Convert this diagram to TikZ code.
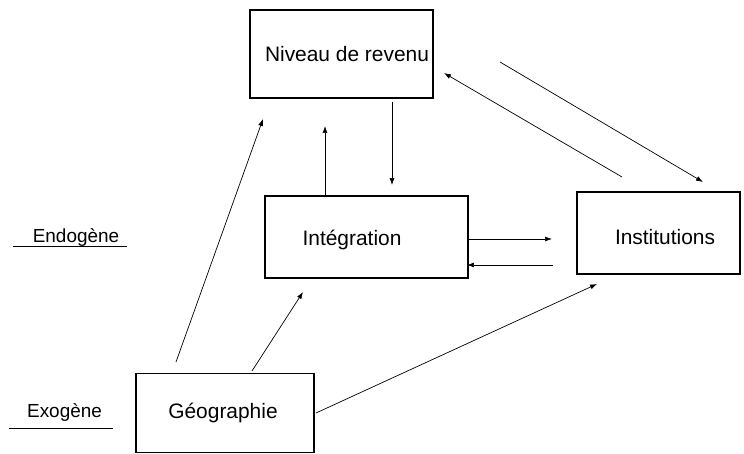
\documentclass[tikz,border=0pt]{standalone}
\usepackage{fontspec}
\setmainfont{Liberation Sans}
\usetikzlibrary{arrows.meta}

\begin{document}
\begin{tikzpicture}[x=1bp,y=-1bp,
    boite/.style={draw,line width=1.1pt,minimum width=#1,inner sep=0pt},
    fleche/.style={-{Latex[length=7pt,width=5pt]},line width=0.7pt},
    txt/.style={font=\fontsize{21}{24}\selectfont},
    petit/.style={font=\fontsize{19}{22}\selectfont}]
    \useasboundingbox (0,0) rectangle (744,454);
    % boxes
    \node[boite=183bp,minimum height=88bp] (rev) at (341.5,54) {};
    \node[boite=203bp,minimum height=82bp] (integ) at (366.5,237) {};
    \node[boite=163bp,minimum height=82bp] (inst) at (658.5,233) {};
    \node[boite=178bp,minimum height=79bp] (geo) at (225,413) {};
    % box texts
    \node[txt] (trev) at (347,54) {Niveau de revenu};
    \node[txt] (tinteg) at (352,240) {Intégration};
    \node[txt] (tinst) at (665,237) {Institutions};
    \node[txt] (tgeo) at (223,413) {Géographie};
    % side labels
    \node[petit] (endo) at (76,237) {Endogène};
    \node[petit] (exo) at (64.5,412) {Exogène};
    \draw[line width=0.8pt] (13,246) -- (127,246);
    \draw[line width=0.8pt] (9,428) -- (113,428);
    % free arrow ends
    \coordinate (g1) at (176,362);  \coordinate (r1) at (263,119);
    \coordinate (g2) at (252,371);  \coordinate (i1) at (303,292);
    \coordinate (g3) at (316,413);  \coordinate (n1) at (597,284);
    \coordinate (i2) at (325,196);  \coordinate (r2) at (325,126);
    \coordinate (r3) at (392,102);  \coordinate (i3) at (392,185);
    \coordinate (n2) at (622,177);  \coordinate (r4) at (444,73);
    \coordinate (r5) at (500,62);   \coordinate (n3) at (703,182);
    \coordinate (i4) at (467,239);  \coordinate (n4) at (552,239);
    \coordinate (n5) at (553,265);  \coordinate (i5) at (467,265);
    % arrows
    \draw[fleche] (g1) -- (r1);
    \draw[fleche] (g2) -- (i1);
    \draw[fleche] (g3) -- (n1);
    \draw[fleche] (i2) -- (r2);
    \draw[fleche] (r3) -- (i3);
    \draw[fleche] (n2) -- (r4);
    \draw[fleche] (r5) -- (n3);
    \draw[fleche] (i4) -- (n4);
    \draw[fleche] (n5) -- (i5);
\end{tikzpicture}
\end{document}
